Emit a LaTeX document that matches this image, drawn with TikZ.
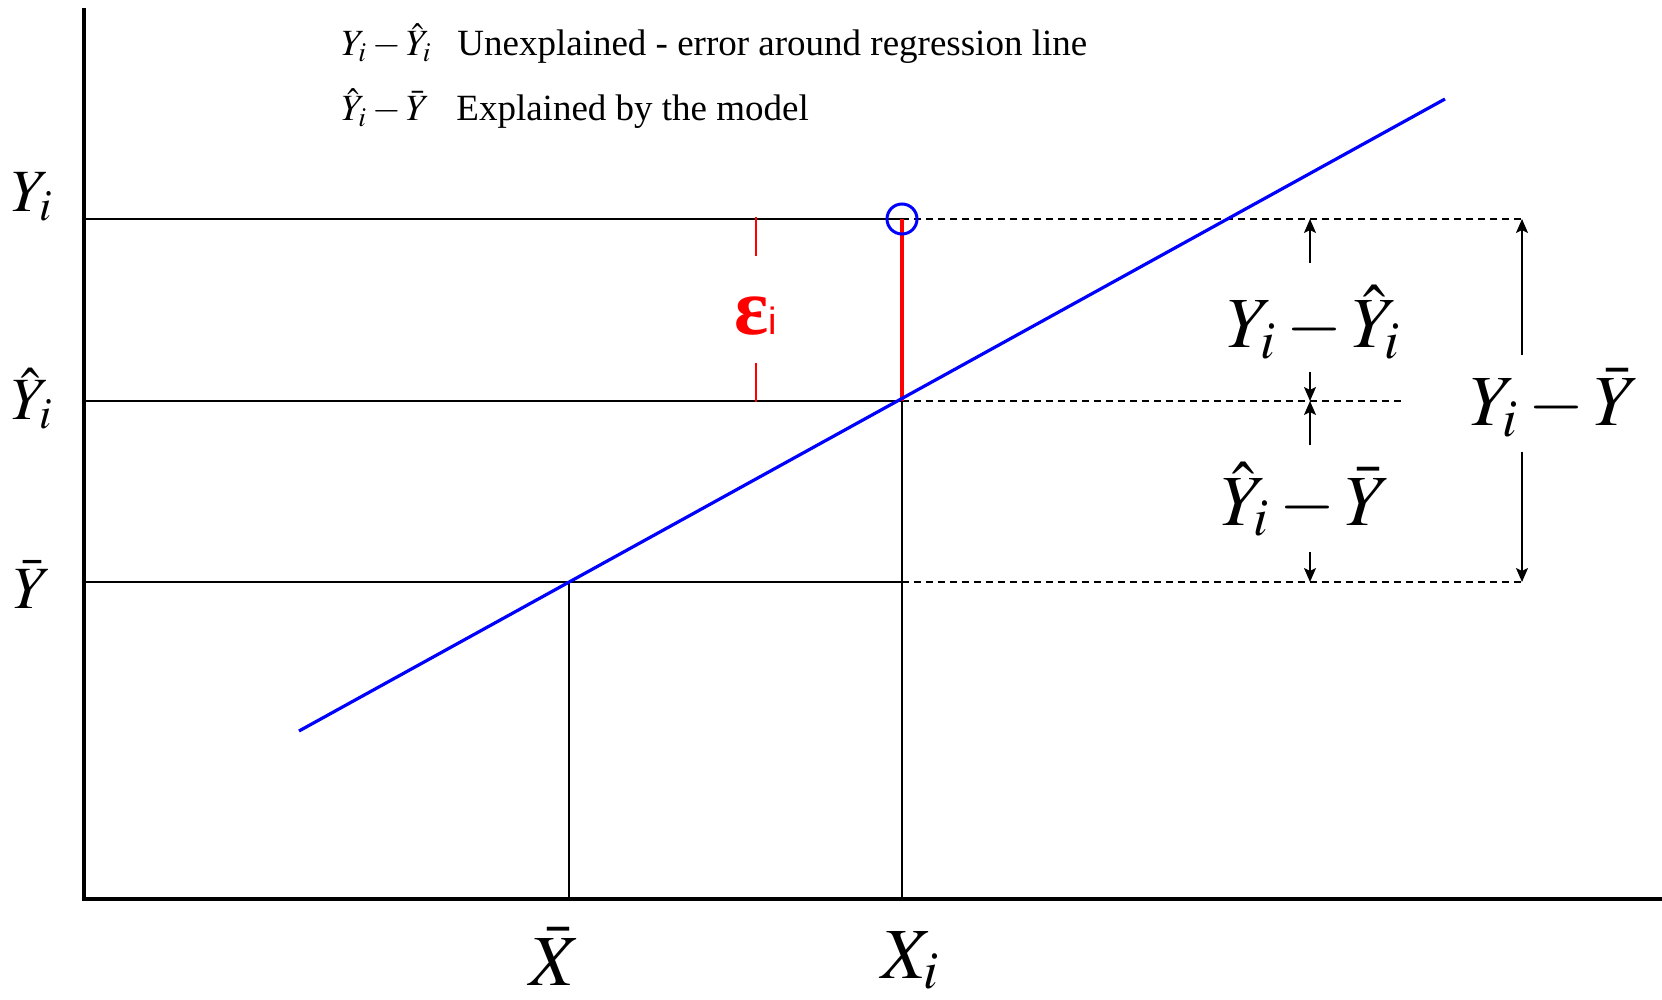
\documentclass[tikz,border=0pt]{standalone}
\usepackage{mathptmx}
\usepackage{fontspec}
\setmainfont{Liberation Serif}
\newfontfamily\epsfont{Liberation Serif}
\newfontfamily\arialfont{Liberation Sans}
\usepackage{xcolor}
\usepackage{tikz}
\usetikzlibrary{arrows.meta,calc}
\definecolor{rFit}{HTML}{0000FF}
\definecolor{rErr}{HTML}{FF0000}
\newcommand{\dimarrow}[2]{%
 \draw[line width=0.8pt, -{Stealth[length=7pt,width=6pt,inset=1.5pt]}] (#1) -- (#2);}

\begin{document}
\begin{tikzpicture}[x=0.5pt, y=-0.5pt,
 guide/.style={line width=0.75pt},
 dashguide/.style={line width=0.75pt, dash pattern=on 3.5pt off 2.5pt},
 axlab/.style={font=\fontsize{30}{30}\selectfont, inner sep=0pt, anchor=base},
 biglab/.style={font=\fontsize{36}{36}\selectfont, inner sep=0pt, anchor=base},
 legtext/.style={font=\fontsize{18.5}{22}\selectfont, inner sep=0pt, anchor=base west}]
\useasboundingbox (0,0) rectangle (1662,1000);
\coordinate (yTop) at (84,8);
\coordinate (orig) at (84,899);
\coordinate (xEnd) at (1662,899);
\coordinate (yiL) at (84,219);
\coordinate (yhL) at (84,401);
\coordinate (ybL) at (84,582);
\coordinate (ybM) at (902,582);
\coordinate (mean) at (569,582);
\coordinate (fitPt) at (902,401);
\coordinate (obsPt) at (902,219);
\coordinate (xbAx) at (569,899);
\coordinate (xiAx) at (902,899);
\coordinate (yiR) at (1522,219);
\coordinate (yhR) at (1401,401);
\coordinate (ybR) at (1522,582);
\coordinate (fitLo) at (299,731);
\coordinate (fitHi) at (1445,99);
\draw[guide] (yiL) -- (obsPt);
\draw[guide] (yhL) -- (fitPt) -- (xiAx);
\draw[guide] (ybL) -- (ybM);
\draw[guide] (mean) -- (xbAx);
\draw[dashguide] (obsPt) -- (yiR);
\draw[dashguide] (fitPt) -- (yhR);
\draw[dashguide] (ybM) -- (ybR);
\draw[line width=2pt] (yTop) -- (orig) -- (xEnd);
\draw[rErr, line width=1.6pt] (obsPt) -- (fitPt);
\draw[rFit, line width=1.6pt] (fitLo) -- (fitHi);
\node[circle, draw=rFit, line width=1.5pt, minimum size=15pt, inner sep=0pt] (obs) at (obsPt) {};
\coordinate (e1) at (756,217);
\coordinate (e2) at (756,256);
\coordinate (e3) at (756,363);
\coordinate (e4) at (756,402);
\draw[rErr, line width=0.75pt] (e1) -- (e2) (e3) -- (e4);
\node[inner sep=0pt, anchor=base, text=rErr] (eps) at (756,335) {{\epsfont\bfseries\fontsize{40}{40}\selectfont ε}{\arialfont\fontsize{19}{19}\selectfont i}};
\node[axlab] (labYi) at (32,212) {$Y_i$};
\node[axlab] (labYh) at (32,420) {$\hat{Y}_i$};
\node[axlab] (labYb) at (32,608) {$\bar{Y}$};
\node[biglab] (labXb) at (555,985) {$\bar{X}$};
\node[biglab] (labXi) at (910,978) {$X_i$};
\node[biglab] (unexp) at (1314,348) {$Y_i - \hat{Y}_i$};
\node[biglab] (expl) at (1306,525) {$\hat{Y}_i - \bar{Y}$};
\node[biglab] (total) at (1555,426) {$Y_i - \bar{Y}$};
\coordinate (a1) at (1310,263);
\coordinate (a1t) at (1310,219);
\coordinate (a2) at (1310,372);
\coordinate (a2t) at (1310,401);
\coordinate (a3) at (1310,445);
\coordinate (a3t) at (1310,401);
\coordinate (a4) at (1310,552);
\coordinate (a4t) at (1310,582);
\coordinate (b1) at (1522,355);
\coordinate (b1t) at (1522,219);
\coordinate (b2) at (1522,452);
\coordinate (b2t) at (1522,582);
\dimarrow{a1}{a1t}
\dimarrow{a2}{a2t}
\dimarrow{a3}{a3t}
\dimarrow{a4}{a4t}
\dimarrow{b1}{b1t}
\dimarrow{b2}{b2t}
\node[legtext] (leg1m) at (341,56) {$Y_i - \hat{Y}_i$};
\node[legtext] (leg1t) at (457,56) {Unexplained - error around regression line};
\node[legtext] (leg2m) at (341,121) {$\hat{Y}_i - \bar{Y}$};
\node[legtext] (leg2t) at (456,121) {Explained by the model};
\end{tikzpicture}
\end{document}
